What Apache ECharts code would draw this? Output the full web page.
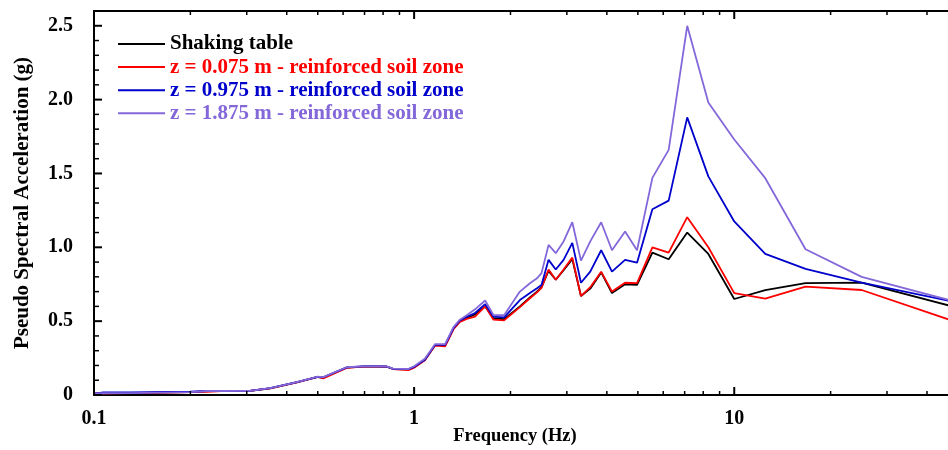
<!DOCTYPE html>
<html>
<head>
<meta charset="utf-8">
<script src="https://cdn.jsdelivr.net/npm/echarts@6/dist/echarts.min.js"></script>
<style>
  html, body { margin: 0; padding: 0; background: #fff; }
  #chart { width: 948px; height: 450px; }
</style>
</head>
<body>
<div id="chart"></div>
<script>
// frequencies (Hz) of the plotted points
var freq = [0.1, 0.107, 0.13, 0.2, 0.225, 0.25, 0.307, 0.355, 0.43, 0.5, 0.52, 0.616, 0.71, 0.82, 0.86, 0.96, 1.0, 1.08,
    1.163, 1.25, 1.327, 1.39, 1.46, 1.55, 1.667, 1.77, 1.91, 2.14, 2.3, 2.42, 2.5, 2.63, 2.77, 2.93, 3.12, 3.32, 3.55,
    3.84, 4.15, 4.56, 4.97, 5.55, 6.24, 7.13, 8.3, 10, 12.5, 16.7, 25, 50];

var shakingTable = [0.010, 0.012, 0.013, 0.020, 0.026, 0.027, 0.028, 0.045, 0.085, 0.122, 0.118, 0.186, 0.194, 0.192, 0.176, 0.174, 0.19, 0.237,
    0.339, 0.337, 0.45, 0.50, 0.52, 0.545, 0.60, 0.52, 0.513, 0.60, 0.66, 0.70, 0.73, 0.84, 0.78, 0.845, 0.92, 0.67, 0.72,
    0.83, 0.69, 0.75, 0.745, 0.964, 0.919, 1.10, 0.955, 0.65, 0.71, 0.757, 0.761, 0.59];
var z0075 = [0.010, 0.012, 0.013, 0.020, 0.021, 0.027, 0.028, 0.045, 0.085, 0.122, 0.112, 0.184, 0.194, 0.192, 0.176, 0.168, 0.185, 0.235,
    0.335, 0.330, 0.445, 0.495, 0.515, 0.53, 0.60, 0.51, 0.505, 0.595, 0.655, 0.695, 0.725, 0.85, 0.78, 0.85, 0.93, 0.67, 0.73,
    0.835, 0.70, 0.76, 0.757, 1.0, 0.964, 1.204, 1.0, 0.69, 0.653, 0.734, 0.711, 0.49];
var z0975 = [0.010, 0.017, 0.017, 0.022, 0.027, 0.027, 0.028, 0.046, 0.087, 0.123, 0.12, 0.187, 0.195, 0.193, 0.177, 0.175, 0.19, 0.238,
    0.34, 0.34, 0.452, 0.505, 0.53, 0.555, 0.615, 0.53, 0.525, 0.643, 0.69, 0.723, 0.745, 0.915, 0.85, 0.915, 1.03, 0.76, 0.835,
    0.98, 0.835, 0.915, 0.896, 1.258, 1.316, 1.88, 1.48, 1.175, 0.955, 0.854, 0.761, 0.625];
var z1875 = [0.010, 0.012, 0.013, 0.020, 0.027, 0.027, 0.028, 0.046, 0.087, 0.124, 0.121, 0.188, 0.196, 0.194, 0.178, 0.176, 0.195, 0.245,
    0.345, 0.345, 0.46, 0.51, 0.54, 0.58, 0.64, 0.54, 0.54, 0.70, 0.757, 0.79, 0.825, 1.016, 0.96, 1.04, 1.17, 0.91, 1.04,
    1.17, 0.98, 1.107, 0.98, 1.47, 1.66, 2.50, 1.98, 1.73, 1.468, 0.987, 0.80, 0.627];

var seriesNames = ['Shaking table', 'z = 0.075 m - reinforced soil zone', 'z = 0.975 m - reinforced soil zone', 'z = 1.875 m - reinforced soil zone'];
var seriesColors = ['#000000', '#ff0000', '#0000cc', '#8468da'];
var seriesValues = [shakingTable, z0075, z0975, z1875];

// tick positions
var xMajor = [0.1, 1, 10];
var xMinor = [0.2, 0.3, 0.4, 0.5, 0.6, 0.7, 0.8, 0.9, 2, 3, 4, 5, 6, 7, 8, 9, 20, 30, 40, 50];
var yMajor = [0, 0.5, 1, 1.5, 2, 2.5];
var yMinor = [];
for (var i = 1; i < 26; i++) { if (i % 5 !== 0) yMinor.push(i / 10); }

var xMin = 0.1, xMax = 50, yMin = 0, yMax = 2.6;
var font = 'Liberation Serif';
var black = '#000';

var option = {
    animation: false,
    backgroundColor: '#fff',
    grid: { left: 94, top: 11, bottom: 55, width: 864, outerBoundsMode: 'none', containLabel: false },
    legend: {
        orient: 'vertical', left: 113, top: 28, itemWidth: 47, itemHeight: 2, itemGap: 1.1, icon: 'rect',
        data: seriesNames.map(function (n, k) {
            return { name: n, textStyle: { color: seriesColors[k] } };
        }),
        textStyle: { fontFamily: font, fontWeight: 'bold', fontSize: 21, lineHeight: 22, padding: [0, 0, 0, 0] }
    },
    xAxis: [
        {
            type: 'log', logBase: 10, min: xMin, max: xMax, position: 'bottom',
            name: 'Frequency (Hz)', nameLocation: 'middle', nameGap: 32, nameMoveOverlap: false,
            nameTextStyle: { color: black, fontFamily: font, fontWeight: 'bold', fontSize: 18.5, padding: [0, 22, 0, 0] },
            axisLine: { show: true, lineStyle: { color: black, width: 2 } },
            axisTick: { show: false },
            axisLabel: {
                color: black, fontFamily: font, fontWeight: 'bold', fontSize: 20, margin: 14, showMaxLabel: false,
                formatter: function (v) { return String(Math.round(v * 1000) / 1000); }
            },
            splitLine: { show: false }
        },
        {
            type: 'log', logBase: 10, min: xMin, max: xMax, position: 'top',
            axisLine: { show: true, lineStyle: { color: black, width: 2 } },
            axisTick: { show: false }, axisLabel: { show: false }, splitLine: { show: false }
        }
    ],
    yAxis: {
        type: 'value', min: yMin, max: yMax, interval: 0.5, position: 'left',
        name: 'Pseudo Spectral Acceleration (g)', nameLocation: 'middle', nameGap: 61, nameMoveOverlap: false,
        nameTextStyle: { color: black, fontFamily: font, fontWeight: 'bold', fontSize: 21 },
        axisLine: { show: true, lineStyle: { color: black, width: 2 } },
        axisTick: { show: false },
        axisLabel: {
            color: black, fontFamily: font, fontWeight: 'bold', fontSize: 20, margin: 21, showMaxLabel: false,
            formatter: function (v) { return v === 0 ? '0' : v.toFixed(1); }
        },
        splitLine: { show: false }
    },
    series: seriesNames.map(function (name, k) {
        return {
            name: name,
            type: 'line',
            xAxisIndex: 0,
            yAxisIndex: 0,
            symbol: 'none',
            lineStyle: { color: seriesColors[k], width: 1.8 },
            itemStyle: { color: seriesColors[k] },
            data: freq.map(function (f, j) { return [f, seriesValues[k][j]]; })
        };
    })
};

var myChart = echarts.init(document.getElementById('chart'));
try {
    myChart.setOption(option);
} catch (e) {
    console.log(e);
}

// inward ticks on the frame, placed through the chart's own cartesian scales
var finder = { xAxisIndex: 0, yAxisIndex: 0 };
function px(x, y) { return myChart.convertToPixel(finder, [x, y]); }
var ticks = [];
function tick(p, dx, dy, w) {
    ticks.push({
        type: 'line', silent: true, z: 100,
        shape: { x1: p[0], y1: p[1], x2: p[0] + dx, y2: p[1] + dy },
        style: { stroke: black, lineWidth: w }
    });
}
[[xMajor, 8, 2], [xMinor, 4, 1.5]].forEach(function (set) {
    set[0].forEach(function (v) {
        tick(px(v, yMin), 0, -set[1], set[2]);
        tick(px(v, yMax), 0, set[1], set[2]);
    });
});
[[yMajor, 8, 2], [yMinor, 5, 1.5]].forEach(function (set) {
    set[0].forEach(function (v) {
        tick(px(xMin, v), set[1], 0, set[2]);
    });
});
myChart.setOption({ graphic: { elements: ticks } });
</script>
</body>
</html>
